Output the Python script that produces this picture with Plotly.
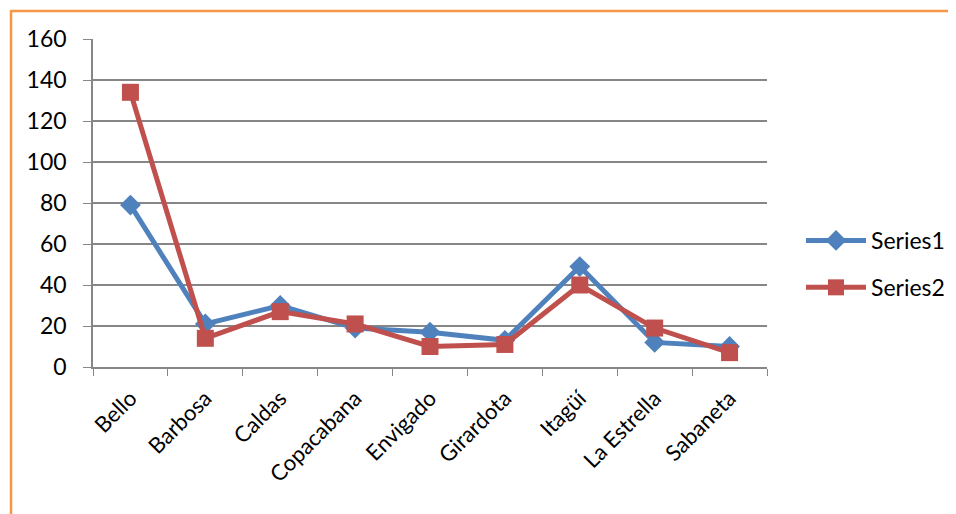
import plotly.graph_objects as go

categories = ["Bello", "Barbosa", "Caldas", "Copacabana", "Envigado", "Girardota", "Itagüí", "La Estrella", "Sabaneta"]
series1 = [79, 21, 30, 19, 17, 13, 49, 12, 10]
series2 = [134, 14, 27, 21, 10, 11, 40, 19, 7]
y_ticks = [0, 20, 40, 60, 80, 100, 120, 140, 160]

OFF = 8  # page body margin
W, H = 956 - OFF, 514 - OFF
L, R, T, B = 93 - OFF, 767 - OFF, 39 - OFF, 367 - OFF

fig = go.Figure()
fig.add_trace(go.Scatter(x=categories, y=series1, name="Series1", mode="lines+markers",
                         legendgroup="s1",
                         line=dict(color="#4F81BD", width=5),
                         marker=dict(symbol="diamond", size=16, color="#4F81BD")))
fig.add_trace(go.Scatter(x=categories, y=series2, name="Series2", mode="lines+markers",
                         legendgroup="s2",
                         line=dict(color="#C0504D", width=5),
                         marker=dict(symbol="square", size=17, color="#C0504D")))

def px_x(p):
    return (p - OFF - L) / (R - L)

def px_y(p):
    return (B - (p - OFF)) / (B - T)

fig.update_layout(
    width=W, height=H,
    margin=dict(l=L, r=W - R, t=T, b=H - B, pad=0, autoexpand=False),
    paper_bgcolor="white", plot_bgcolor="white",
    font=dict(family="Lato, Open Sans, sans-serif", size=22, color="black"),
    showlegend=True,
    legend=dict(xref="container", yref="container",
                x=(801 - OFF) / W, y=1 - (264 - OFF) / H, xanchor="left", yanchor="middle",
                font=dict(size=23), tracegroupgap=14, itemwidth=60,
                bgcolor="rgba(0,0,0,0)"),
    xaxis=dict(type="category", tickangle=-45, showgrid=False,
               showline=True, linecolor="#868686", linewidth=1.5,
               ticks="outside", tickson="boundaries", ticklen=7, tickcolor="#868686",
               tickfont=dict(size=22), ticklabelstandoff=8, range=[-0.5, 8.5]),
    yaxis=dict(range=[0, 160], tickvals=y_ticks, showgrid=True, gridcolor="#868686",
               gridwidth=1.5, showline=True, linecolor="#868686", linewidth=1.5,
               ticks="outside", ticklen=8, tickcolor="#868686", zeroline=False,
               tickfont=dict(size=23), ticklabelstandoff=12),
    shapes=[
        dict(type="line", xref="paper", yref="paper", x0=px_x(11), x1=px_x(970),
             y0=px_y(11), y1=px_y(11), line=dict(color="#F79646", width=2.5)),
        dict(type="line", xref="paper", yref="paper", x0=px_x(11), x1=px_x(11),
             y0=px_y(10), y1=px_y(530), line=dict(color="#F79646", width=2.5)),
    ],
)

fig.write_html("out.html")
